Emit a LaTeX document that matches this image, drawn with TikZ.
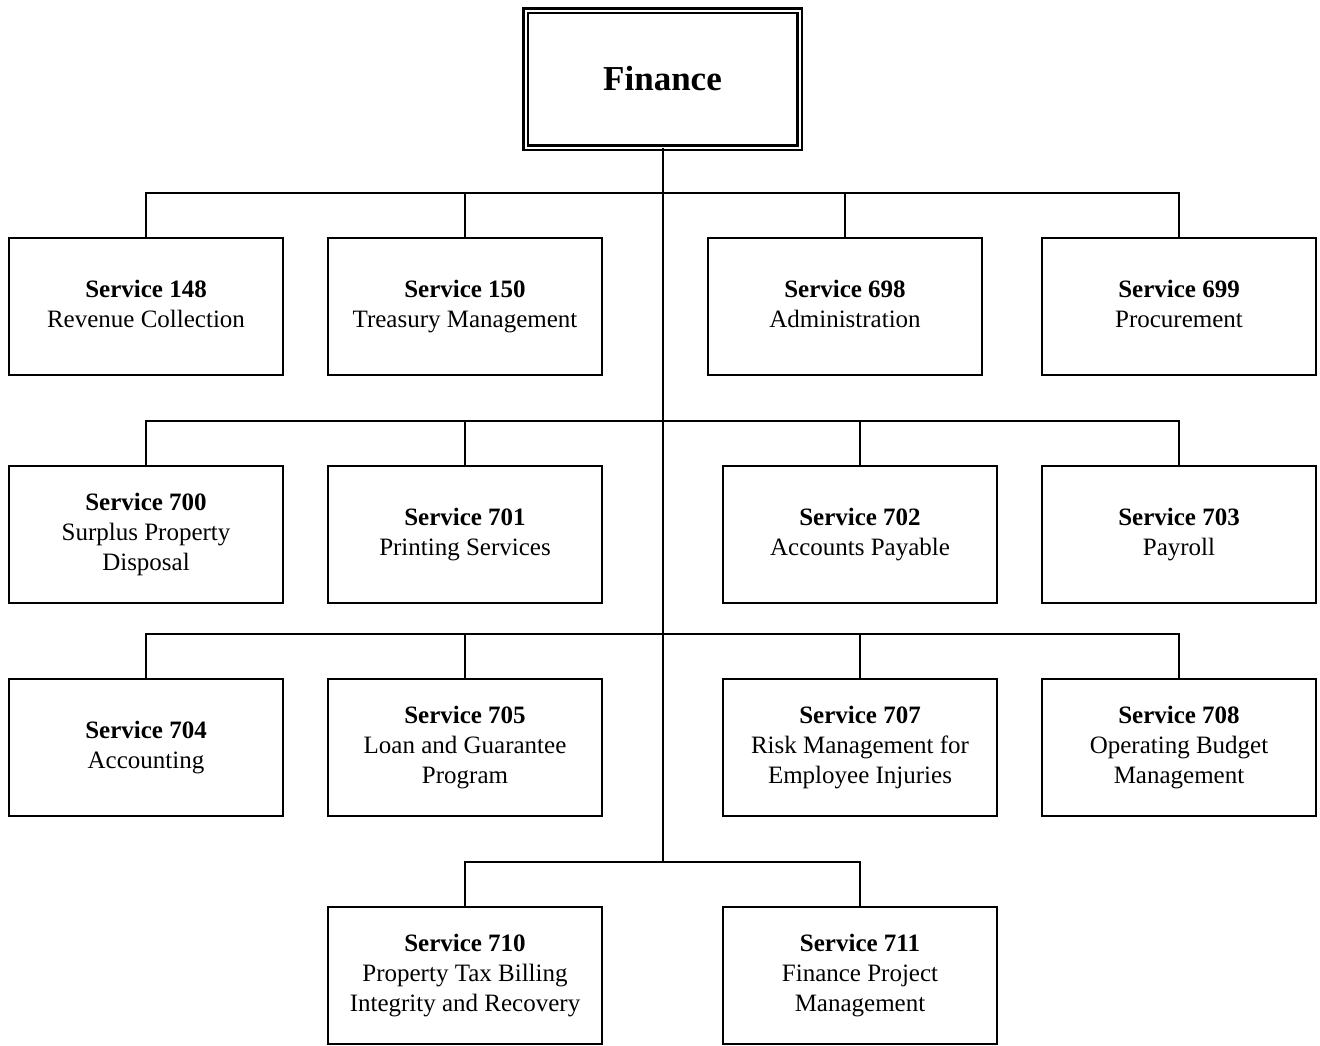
\documentclass[tikz,border=0pt]{standalone}
\usepackage{fontspec}
\setmainfont{Liberation Serif}
\usetikzlibrary{positioning}

\tikzset{
  svc/.style={draw, line width=2pt, minimum width=274pt, minimum height=137pt,
    inner sep=0pt, outer sep=0pt, align=center,
    font=\fontsize{25}{30}\selectfont,
    execute at begin node=\rule{0pt}{24pt},
    execute at end node=\rule[-6pt]{0pt}{6pt}},
  dept/.style={draw, double, line width=2.5pt, double distance=2pt,
    minimum width=274pt, minimum height=137pt, inner sep=0pt, outer sep=0pt,
    font=\fontsize{35}{42}\selectfont\bfseries},
  link/.style={line width=2pt},
}

\begin{document}
\begin{tikzpicture}[x=1pt,y=-1pt]
  \useasboundingbox (0,0) rectangle (1320,1045);
  \node[dept] (fin) at (662.5,79) {Finance};
  %
  \node[svc] (s148) at (146,306.5) {\textbf{Service 148}\\Revenue Collection};
  \node[svc] (s150) at (465,306.5) {\textbf{Service 150}\\Treasury Management};
  \node[svc] (s698) at (845,306.5) {\textbf{Service 698}\\Administration};
  \node[svc] (s699) at (1179,306.5) {\textbf{Service 699}\\Procurement};
  %
  \node[svc] (s700) at (146,534.5) {\textbf{Service 700}\\Surplus Property\\Disposal};
  \node[svc] (s701) at (465,534.5) {\textbf{Service 701}\\Printing Services};
  \node[svc] (s702) at (860,534.5) {\textbf{Service 702}\\Accounts Payable};
  \node[svc] (s703) at (1179,534.5) {\textbf{Service 703}\\Payroll};
  %
  \node[svc] (s704) at (146,747.5) {\textbf{Service 704}\\Accounting};
  \node[svc] (s705) at (465,747.5) {\textbf{Service 705}\\Loan and Guarantee\\Program};
  \node[svc] (s707) at (860,747.5) {\textbf{Service 707}\\Risk Management for\\Employee Injuries};
  \node[svc] (s708) at (1179,747.5) {\textbf{Service 708}\\Operating Budget\\Management};
  %
  \node[svc] (s710) at (465,975.5) {\textbf{Service 710}\\Property Tax Billing\\Integrity and Recovery};
  \node[svc] (s711) at (860,975.5) {\textbf{Service 711}\\Finance Project\\Management};
  %
  \coordinate (b1) at (662.5,193);
  \coordinate (b2) at (662.5,421);
  \coordinate (b3) at (662.5,634);
  \coordinate (b4) at (662.5,862);
  %
  \draw[link] (fin.south) -- (fin.south |- b4);
  \draw[link] (s148.north) |- (b1) -| (s699.north);
  \draw[link] (s150.north) -- (s150.north |- b1);
  \draw[link] (s698.north) -- (s698.north |- b1);
  \draw[link] (s700.north) |- (b2) -| (s703.north);
  \draw[link] (s701.north) -- (s701.north |- b2);
  \draw[link] (s702.north) -- (s702.north |- b2);
  \draw[link] (s704.north) |- (b3) -| (s708.north);
  \draw[link] (s705.north) -- (s705.north |- b3);
  \draw[link] (s707.north) -- (s707.north |- b3);
  \draw[link] (s710.north) |- (b4) -| (s711.north);
\end{tikzpicture}
\end{document}
